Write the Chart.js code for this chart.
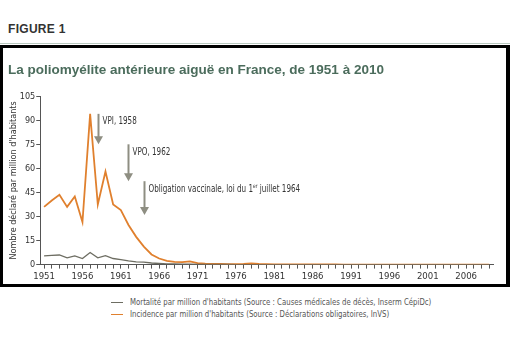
<!DOCTYPE html>
<html>
<head>
<meta charset="utf-8">
<script src="https://cdn.jsdelivr.net/npm/chart.js@4"></script>
<style>
  html, body { margin: 0; padding: 0; background: #fff; }
  body { width: 510px; height: 352px; position: relative; overflow: hidden; }
  #fig { position: absolute; left: 8px; top: 22px; font: bold 12px 'Liberation Sans', Arial, sans-serif; color: #333; letter-spacing: 0.3px; }
  #sep { position: absolute; left: 0; top: 43px; width: 510px; height: 1px; background: #b9c9c0; }
  #frame { position: absolute; left: 0; top: 45px; width: 510px; height: 242px; box-sizing: border-box; border: 3px solid #000; border-right-width: 4px; }
  #frame canvas { display: block; }
  #legend { position: absolute; left: 111px; top: 296px; font: 9px 'Liberation Sans Narrow', 'DejaVu Sans Condensed', sans-serif; color: #555; }
  #legend div { height: 12px; line-height: 12px; white-space: nowrap; }
  #legend span.sw { display: inline-block; width: 12px; height: 0; vertical-align: middle; margin-right: 7px; }
  #legend span.tx { display: inline-block; transform: scaleX(0.86); transform-origin: left center; }
</style>
</head>
<body>
<div id="fig">FIGURE 1</div>
<div id="sep"></div>
<div id="frame"><canvas id="chart" width="503" height="236"></canvas></div>
<div id="legend"></div>
<script>
// Données
const years = [
  '1951','1952','1953','1954','1955','1956','1957','1958','1959','1960',
  '1961','1962','1963','1964','1965','1966','1967','1968','1969','1970',
  '1971','1972','1973','1974','1975','1976','1977','1978','1979','1980',
  '1981','1982','1983','1984','1985','1986','1987','1988','1989','1990',
  '1991','1992','1993','1994','1995','1996','1997','1998','1999','2000',
  '2001','2002','2003','2004','2005','2006','2007','2008','2009'
];

const incidence = [
  36, 40, 43.5, 36, 42.5, 26.5, 94, 37.5, 58, 37.5,
  34, 24.7, 17.3, 11.2, 6.3, 3.8, 2.3, 1.7, 1.5, 2.0,
  0.9, 0.6, 0.5, 0.4, 0.3, 0.3, 0.4, 0.7, 0.4, 0.3,
  0.2, 0.2, 0.1, 0.1, 0.1, 0.1, 0.1, 0.1, 0.1, 0,
  0, 0, 0, 0, 0, 0, 0, 0, 0, 0,
  0, 0, 0, 0, 0, 0, 0, 0, 0
];

const mortality = [
  5.4, 5.8, 6.0, 4.2, 5.4, 3.8, 7.5, 4.2, 5.6, 3.8,
  3.1, 2.3, 1.7, 1.5, 1.0, 0.7, 0.5, 0.4, 0.3, 0.3,
  0.2, 0.1, 0.1, 0.1, 0.1, 0, 0, 0, 0, 0,
  0, 0, 0, 0, 0, 0, 0, 0, 0, 0,
  0, 0, 0, 0, 0, 0, 0, 0, 0, 0,
  0, 0, 0, 0, 0, 0, 0, 0, 0
];

const yTicks = [0, 15, 30, 45, 60, 75, 90, 105];

// repères : année, haut et bas de la flèche (valeurs), texte
const markers = [
  { year: '1958', top: 94, bottom: 75, text: 'VPI, 1958' },
  { year: '1962', top: 75, bottom: 52, text: 'VPO, 1962' },
  { year: '1964', top: 52, bottom: 31, text: 'Obligation vaccinale, loi du 1er juillet 1964' }
];

const NARROW = "'Liberation Sans Narrow', 'DejaVu Sans Condensed', sans-serif";
const ORANGE = '#e0802e';
const GREY = '#6d6d62';
const ARROW = '#8e8e82';

const arrowPlugin = {
  id: 'arrows',
  afterDatasetsDraw(chart) {
    const { ctx, scales: { x, y } } = chart;
    ctx.save();
    markers.forEach(m => {
      const px = Math.round(x.getPixelForValue(years.indexOf(m.year))) + 0.5;
      const y0 = y.getPixelForValue(m.top);
      const y1 = y.getPixelForValue(m.bottom);
      ctx.strokeStyle = ARROW;
      ctx.fillStyle = ARROW;
      ctx.lineWidth = 2;
      ctx.beginPath();
      ctx.moveTo(px, y0);
      ctx.lineTo(px, y1 - 7);
      ctx.stroke();
      ctx.beginPath();
      ctx.moveTo(px - 4.5, y1 - 8);
      ctx.lineTo(px + 4.5, y1 - 8);
      ctx.lineTo(px, y1);
      ctx.closePath();
      ctx.fill();
      // texte, resserré horizontalement
      ctx.save();
      ctx.translate(px + 4, y0 + 8);
      ctx.scale(0.8, 1);
      ctx.fillStyle = '#333';
      ctx.font = '10px ' + NARROW;
      ctx.textBaseline = 'middle';
      ctx.textAlign = 'left';
      const sup = m.text.indexOf('1er');
      if (sup >= 0) {
        const a = m.text.slice(0, sup + 1);
        const b = m.text.slice(sup + 3);
        ctx.fillText(a, 0, 0);
        let w = ctx.measureText(a).width;
        ctx.font = '6px ' + NARROW;
        ctx.fillText('er', w, -3);
        w += ctx.measureText('er').width;
        ctx.font = '10px ' + NARROW;
        ctx.fillText(b, w, 0);
      } else {
        ctx.fillText(m.text, 0, 0);
      }
      ctx.restore();
    });
    ctx.restore();
  }
};

const chart = new Chart(document.getElementById('chart'), {
  type: 'line',
  data: {
    labels: years,
    datasets: [
      {
        label: "Mortalité par million d'habitants  (Source : Causes médicales de décès, Inserm CépiDc)",
        data: mortality,
        borderColor: GREY,
        borderWidth: 1.3,
        pointRadius: 0,
        tension: 0
      },
      {
        label: "Incidence par million d'habitants (Source : Déclarations obligatoires, InVS)",
        data: incidence,
        borderColor: ORANGE,
        borderWidth: 1.8,
        pointRadius: 0,
        tension: 0
      }
    ]
  },
  options: {
    responsive: false,
    animation: false,
    layout: { padding: { left: 5, right: 13, top: 0, bottom: 0 } },
    plugins: {
      legend: { display: false },
      tooltip: { enabled: false },
      title: {
        display: true,
        text: 'La poliomyélite antérieure aiguë en France, de 1951 à 2010',
        align: 'start',
        color: '#4b6c5c',
        font: { family: "'Liberation Sans', Arial, sans-serif", size: 13.5, weight: 'bold' },
        padding: { top: 14, bottom: 18 }
      }
    },
    scales: {
      x: {
        offset: true,
        grid: { display: true, drawOnChartArea: false, color: '#555', tickLength: 4, offset: false },
        border: { color: '#555', width: 1 },
        ticks: {
          autoSkip: false,
          maxRotation: 0,
          color: '#333',
          font: { family: NARROW, size: 9.5 },
          padding: 2,
          callback: (v, i) => (i % 5 === 0 ? years[i] : '')
        }
      },
      y: {
        min: 0,
        max: 105,
        afterBuildTicks: axis => { axis.ticks = yTicks.map(v => ({ value: v })); },
        grid: { display: true, drawOnChartArea: false, color: '#555', tickLength: 4 },
        border: { color: '#555', width: 1 },
        ticks: { color: '#333', font: { family: NARROW, size: 9 }, padding: 1 },
        title: {
          display: true,
          text: "Nombre déclaré par million d'habitants",
          color: '#333',
          font: { family: NARROW, size: 9 },
          padding: { top: 0, bottom: 0 }
        }
      }
    }
  },
  plugins: [arrowPlugin]
});

// légende sous le cadre, construite depuis les séries
const legend = document.getElementById('legend');
chart.data.datasets.forEach(ds => {
  const row = document.createElement('div');
  const sw = document.createElement('span');
  sw.className = 'sw';
  sw.style.borderTop = '1.5px solid ' + ds.borderColor;
  const tx = document.createElement('span');
  tx.className = 'tx';
  tx.textContent = ds.label;
  row.appendChild(sw);
  row.appendChild(tx);
  legend.appendChild(row);
});
</script>
</body>
</html>
